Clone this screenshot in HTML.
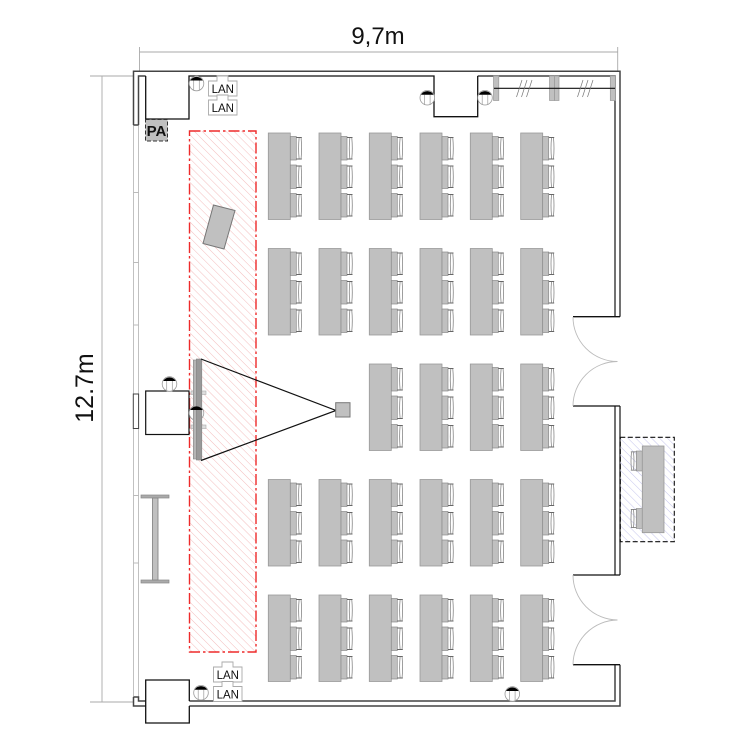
<!DOCTYPE html>
<html><head><meta charset="utf-8"><style>
html,body{margin:0;padding:0;background:#fff}
svg{display:block}
text{font-family:"Liberation Sans",sans-serif}
</style></head><body>
<svg width="750" height="750" viewBox="0 0 750 750" xmlns="http://www.w3.org/2000/svg">
<defs>
<pattern id="hr" width="5.6" height="5.6" patternUnits="userSpaceOnUse" patternTransform="rotate(45)"><line x1="0" y1="0" x2="5.6" y2="0" stroke="#f3bcbc" stroke-width="1"/></pattern>
<pattern id="hb" width="5.6" height="5.6" patternUnits="userSpaceOnUse" patternTransform="rotate(45)"><line x1="0" y1="0" x2="5.6" y2="0" stroke="#c4c4ec" stroke-width="1"/></pattern>
<g id="ch">
<rect x="0" y="0" width="6" height="23.500" fill="#c0c0c0" stroke="#8a8a8a" stroke-width=".7"/>
<path d="M8.800 1.500Q7.800 11.750 8.800 22M10.800 1.500Q11.800 11.750 10.800 22" fill="none" stroke="#888" stroke-width=".8"/>
<path d="M6 1H11.500M6 22.500H11.500" stroke="#666" stroke-width=".9"/>
</g>
<g id="t">
<rect x="0" y="0" width="22" height="86.500" fill="#c0c0c0" stroke="#999" stroke-width=".8"/>
<use href="#ch" x="22" y="3.500"/><use href="#ch" x="22" y="32"/><use href="#ch" x="22" y="60.500"/>
</g>
<g id="o">
<circle cx="0" cy="0" r="7.300" fill="#fff" stroke="#999" stroke-width=".8"/>
<path d="M-2.800 -3V7M2.800 -3V7" stroke="#999" stroke-width=".7"/>
<path d="M-6.300 -3A7.300 7.300 0 0 1 6.300 -3Z" fill="#000"/>
</g>
<g id="lan">
<path d="M0 5H8.500V0H19.500V5H28.500V20H0Z" fill="#fff" stroke="#aaa" stroke-width=".9"/>
<text x="14.300" y="17" font-size="11.500" text-anchor="middle" fill="#111">LAN</text>
</g>
</defs>

<!-- dimension lines -->
<g stroke="#aaa" stroke-width=".9" fill="none">
<path d="M139.500 47V71M139.500 52H617.700M617.700 47V71"/>
<path d="M90 76H133M102 76V702M90 702H133"/>
</g>
<text x="378" y="44" font-size="24" text-anchor="middle" fill="#111">9,7m</text>
<text transform="translate(93 388) rotate(-90)" font-size="25" text-anchor="middle" fill="#111">12.7m</text>

<!-- left window -->
<g stroke="#bbb" stroke-width=".9" fill="none">
<path d="M133.500 125V697M138.500 125V697"/>
<path d="M133 192.500H139M133 262.500H139M133 325H139M133 495.500H139M133 563H139"/>
</g>

<!-- outer walls -->
<g fill="none" stroke="#444" stroke-width="1.500">
<path d="M133.500 125V71.300H620V316.700M615 316.700V76H477.700"/>
<path d="M138.500 125V76H145.700"/>
<path d="M133.500 125H138.500"/>
<path d="M620 406V575M615 406V575M620 664.700V706H189.300M615 664.700V701H189.300"/>
<path d="M133.500 697V706H145.700M133.500 697H138.500V701H145.700"/>
</g>
<g fill="none" stroke="#111" stroke-width="1.300">
<path d="M145.700 76V119H189V76H434V116.700H477.700V76"/>
<path d="M189.300 701V680H145.700V723H189.300V706"/>
<path d="M573 316.700H620M573 406H620M573 575H620M573 664.700H620"/>
</g>
<rect x="133.300" y="394" width="5.300" height="34.500" fill="#fff" stroke="#444" stroke-width="1"/>

<!-- doors -->
<g fill="none" stroke="#bbb" stroke-width=".9">
<path d="M573 317A44.500 44.500 0 0 0 617.500 361.500A44.500 44.500 0 0 0 573 406"/>
<path d="M573 575A45 45 0 0 0 617.500 620A45 45 0 0 0 573 664.700"/>
</g>

<!-- window top right -->
<g fill="#c0c0c0" stroke="#999" stroke-width=".7">
<rect x="493.500" y="76" width="5.300" height="24.500"/>
<rect x="549.500" y="76" width="5" height="24.500"/>
<rect x="554.500" y="76" width="4.500" height="24.500"/>
<rect x="610.300" y="76" width="5" height="24.500"/>
</g>
<path d="M494 88.300H615" stroke="#111" stroke-width="1.200"/>
<path d="M516.500 97L522 80M521.500 97L527 80M526.500 97L532 80M577.500 97L583 80M582.500 97L588 80M587.500 97L593 80" stroke="#777" stroke-width=".7"/>

<!-- stage area -->
<rect x="189.500" y="131" width="66.500" height="521" fill="url(#hr)"/>
<rect x="189.500" y="131" width="66.500" height="521" fill="none" stroke="#ee2a2a" stroke-width="1.400" stroke-dasharray="11 3 2.500 3"/>

<!-- tilted table -->
<path d="M213.500 205L235 210.500L224 249L203 243.500Z" fill="#c0c0c0" stroke="#777" stroke-width="1"/>

<!-- room box -->
<rect x="145.700" y="391" width="43.300" height="43.500" fill="#fff" stroke="#111" stroke-width="1.200"/>

<!-- outlet under screen -->
<circle cx="196.500" cy="413" r="7.300" fill="#fff" stroke="#999" stroke-width=".8"/>

<!-- screen -->
<rect x="191" y="391" width="15" height="3.500" fill="#ddd" stroke="#aaa" stroke-width=".6"/>
<rect x="191" y="425" width="15" height="3.500" fill="#ddd" stroke="#aaa" stroke-width=".6"/>
<rect x="193.300" y="360" width="3" height="99" fill="#b5b5b5" stroke="#888" stroke-width=".6"/>
<rect x="196.300" y="359" width="5.500" height="101" fill="#999" stroke="#888" stroke-width=".6"/>
<path d="M190.200 410H202.800A7.300 7.300 0 0 0 190.200 410Z" fill="#000"/>
<path d="M201 359L336 410.500L201 460.500" fill="none" stroke="#111" stroke-width="1.200"/>
<rect x="335.700" y="402.700" width="14.300" height="14.300" fill="#c0c0c0" stroke="#777" stroke-width="1"/>

<!-- podium -->
<rect x="141" y="495" width="28" height="3" fill="#aaa" stroke="#888" stroke-width=".7"/>
<rect x="141" y="580" width="28" height="3" fill="#aaa" stroke="#888" stroke-width=".7"/>
<rect x="152.500" y="498" width="5.500" height="82" fill="#c0c0c0" stroke="#888" stroke-width=".9"/>

<!-- PA -->
<rect x="145.500" y="119.500" width="22" height="21.500" fill="#c0c0c0" stroke="#333" stroke-width="1" stroke-dasharray="4 2"/>
<text x="156.500" y="136" font-size="15" font-weight="bold" text-anchor="middle" fill="#111">PA</text>

<!-- LAN -->
<use href="#lan" x="208.500" y="76"/>
<use href="#lan" x="208.500" y="95"/>
<use href="#lan" x="213.500" y="662"/>
<use href="#lan" x="213.500" y="681.500"/>

<!-- tables -->
<use href="#t" x="268.300" y="133"/><use href="#t" x="319" y="133"/><use href="#t" x="369.300" y="133"/><use href="#t" x="420" y="133"/><use href="#t" x="470.300" y="133"/><use href="#t" x="520.700" y="133"/>
<use href="#t" x="268.300" y="248.500"/><use href="#t" x="319" y="248.500"/><use href="#t" x="369.300" y="248.500"/><use href="#t" x="420" y="248.500"/><use href="#t" x="470.300" y="248.500"/><use href="#t" x="520.700" y="248.500"/>
<use href="#t" x="369.300" y="364"/><use href="#t" x="420" y="364"/><use href="#t" x="470.300" y="364"/><use href="#t" x="520.700" y="364"/>
<use href="#t" x="268.300" y="479.500"/><use href="#t" x="319" y="479.500"/><use href="#t" x="369.300" y="479.500"/><use href="#t" x="420" y="479.500"/><use href="#t" x="470.300" y="479.500"/><use href="#t" x="520.700" y="479.500"/>
<use href="#t" x="268.300" y="595"/><use href="#t" x="319" y="595"/><use href="#t" x="369.300" y="595"/><use href="#t" x="420" y="595"/><use href="#t" x="470.300" y="595"/><use href="#t" x="520.700" y="595"/>

<!-- reception -->
<rect x="620.300" y="437.300" width="54" height="104.400" fill="url(#hb)"/>
<rect x="620.300" y="437.300" width="54" height="104.400" fill="none" stroke="#111" stroke-width="1.100" stroke-dasharray="5 2.500"/>
<use href="#ch" transform="translate(642.300 451) scale(-1 .85)"/>
<use href="#ch" transform="translate(642.300 508.500) scale(-1 .85)"/>
<rect x="642.300" y="446" width="21.700" height="86.700" fill="#c0c0c0" stroke="#999" stroke-width=".8"/>

<!-- outlets -->
<use href="#o" x="196.500" y="83.500"/>
<use href="#o" x="427.300" y="97.700"/>
<use href="#o" x="485" y="97.700"/>
<use href="#o" x="169.500" y="384"/>
<use href="#o" x="201" y="692.700"/>
<use href="#o" x="512.300" y="694"/>
</svg>
</body></html>
